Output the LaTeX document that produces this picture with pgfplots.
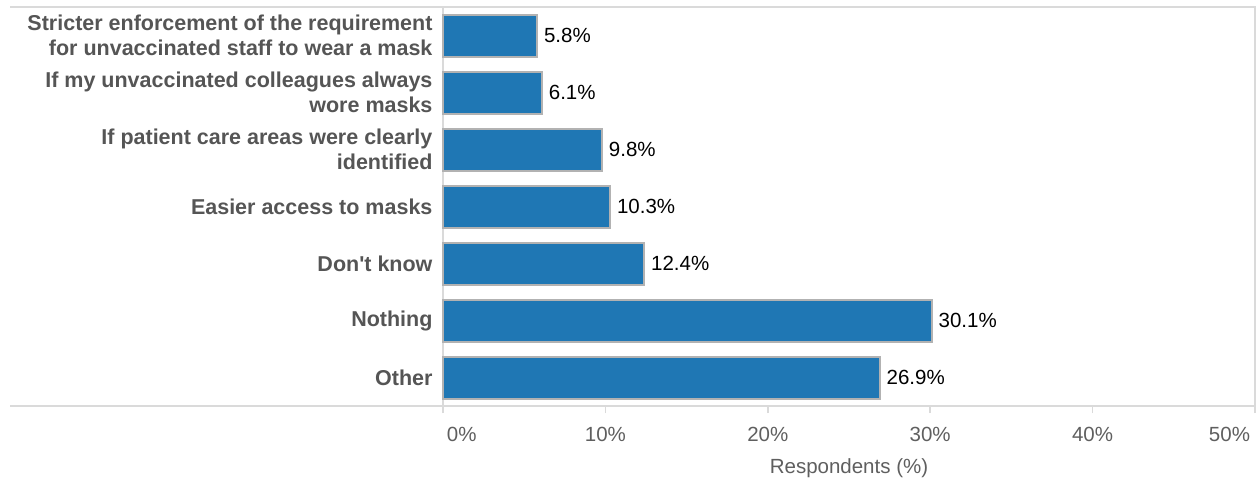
\documentclass[border=0pt]{standalone}
\usepackage{pgfplots}
\pgfplotsset{compat=1.18}
\usepackage{fontspec}
\setmainfont{Liberation Sans}
\definecolor{barblue}{HTML}{1F77B4}
\definecolor{edgegray}{HTML}{B2B2B2}
\definecolor{framegray}{HTML}{DADADA}
\definecolor{labelgray}{HTML}{555555}
\definecolor{tickgray}{HTML}{5F5F5F}
\begin{document}
\begin{tikzpicture}
\begin{axis}[
  name=ax,
  at={(0,0)}, anchor=south west,
  width=812bp, height=399bp, scale only axis,
  xbar, bar width=42bp,
  xmin=0, xmax=50,
  ymin=-0.5, ymax=6.5, y dir=reverse,
  ytick={0,1,2,3,4,5,6},
  yticklabels={{Stricter enforcement of the requirement\\for unvaccinated staff to wear a mask},
    {If my unvaccinated colleagues always\\wore masks},
    {If patient care areas were clearly\\identified},
    {Easier access to masks},
    {Don\textquotesingle t know},
    {Nothing},
    {Other}},
  yticklabel style={align=right, font=\fontsize{21.5bp}{25bp}\selectfont\bfseries, text=labelgray, xshift=0bp},
  ytick style={draw=none},
  xtick={0,10,20,30,40,50},
  xticklabels={\rlap{\hspace{4bp}0\%},10\%,20\%,30\%,40\%,\llap{50\%\hspace{5bp}}},
  xticklabel style={font=\fontsize{20.5bp}{24bp}\selectfont, text=tickgray, yshift=-11bp},
  xtick pos=bottom,
  xtick style={draw=framegray, line width=1.5bp},
  tick align=outside, major tick length=7bp,
  axis line style={draw=framegray, line width=1.5bp},
  xlabel={Respondents (\%)},
  xlabel style={font=\fontsize{20.5bp}{24bp}\selectfont, text=tickgray, yshift=-10bp},
  /pgf/number format/assume math mode=true,
  point meta=x,
  nodes near coords={\pgfmathprintnumber[fixed,precision=1,fixed zerofill]{\pgfplotspointmeta}\%},
  nodes near coords style={font=\fontsize{20.5bp}{24bp}\selectfont, text=black, anchor=west, xshift=2.5bp},
  clip=false,
]
\addplot[fill=barblue, draw=edgegray, line width=2bp] coordinates {
  (5.8,0) (6.1,1) (9.8,2) (10.3,3) (12.4,4) (30.1,5) (26.9,6)};
\end{axis}
\draw[framegray, line width=1.5bp] (ax.south west) -- ++(-433bp,0);
\draw[framegray, line width=1.5bp] (ax.north west) -- ++(-433bp,0);
\pgfresetboundingbox
\useasboundingbox (-443bp,-73bp) rectangle (817bp,406bp);
\end{tikzpicture}
\end{document}
